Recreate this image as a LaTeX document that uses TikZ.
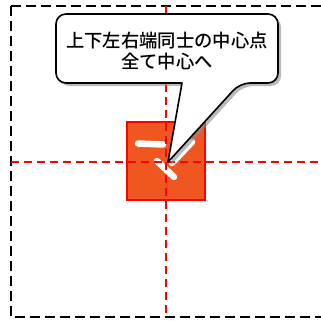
\documentclass[tikz,border=0pt]{standalone}
\usepackage{fontspec}
\newfontfamily\cjk{Noto Sans CJK JP}[BoldFont={Noto Sans CJK JP Medium}]
\definecolor{sqfill}{HTML}{F0561F}
\tikzset{
  frame/.style={black, line width=2.5pt, dash pattern=on 10pt off 5pt},
  guide/.style={red, line width=2.2pt, dash pattern=on 8pt off 5pt},
  stroke/.style={white, line width=6.5pt, line cap=round},
  callout/.style={draw=black, line width=1.6pt, fill=white, line join=round},
}
\begin{document}
\begin{tikzpicture}[x=1pt,y=-1pt]
\useasboundingbox (0,0) rectangle (321,321);
\clip (0,0) rectangle (321,321);
\fill[white] (0,0) rectangle (321,321);
% outer dashed frame
\draw[frame] (11,6) -- (11,317) -- (335,317);
\draw[frame] (11,6) -- (335,6);
% square
\node[draw=red, line width=1.5pt, fill=sqfill, minimum width=78pt, minimum height=78pt, inner sep=0pt] (sq) at (166,161) {};
% white strokes
\draw[stroke] (138,143.5) -- (163,144.5);
\draw[stroke] (192,142) -- (172,163);
\draw[stroke] (157,161) -- (174,177);
% red guides
\draw[guide] (166,6) -- (166,317);
\draw[guide] (11,162) -- (321,162);
% callout
\coordinate (tip) at (168,162);
\fill[black!45, opacity=0.6] [rounded corners=10pt] (59,17) -- (281,17) -- (281,86) -- (243,86) [sharp corners] -- (171,165) -- (185,86) [rounded corners=10pt] -- (59,86) -- cycle;
\draw[callout] [rounded corners=10pt] (56,14) -- (278,14) -- (278,83) -- (240,83) [sharp corners] -- (tip) -- (182,83) [rounded corners=10pt] -- (56,83) -- cycle;
\node[font=\cjk\bfseries\fontsize{18.3}{20.5}\selectfont, align=center, inner sep=0pt] (lbl) at (167,51) {上下左右端同士の中心点\\全て中心へ};
\end{tikzpicture}
\end{document}
